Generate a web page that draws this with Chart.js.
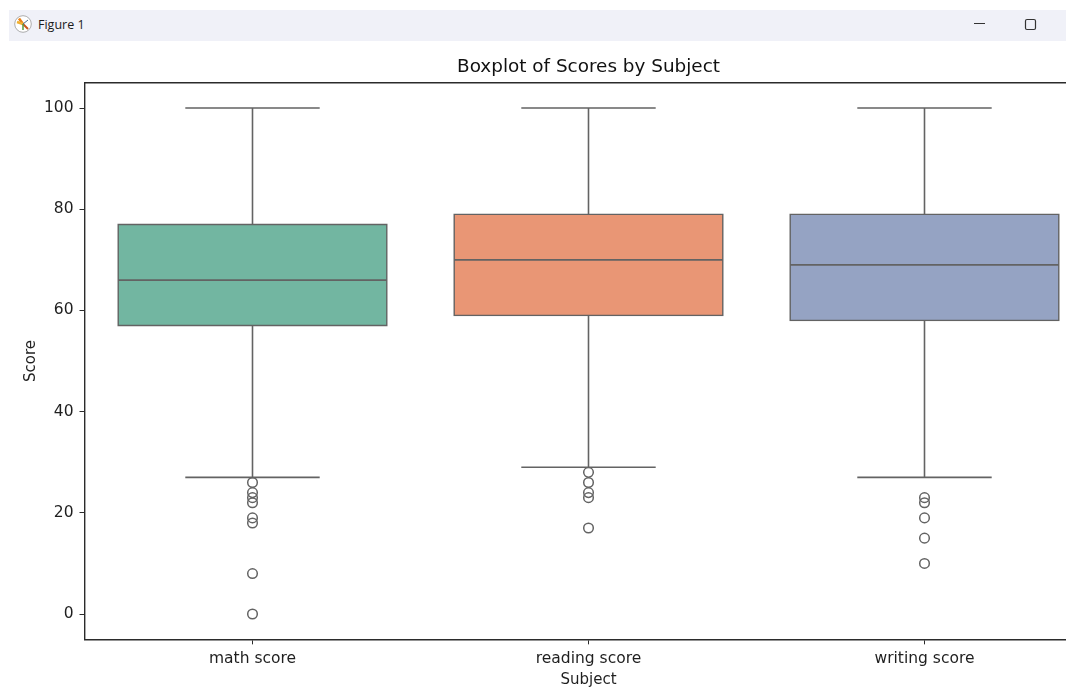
<!DOCTYPE html>
<html>
<head>
<meta charset="utf-8">
<title>Boxplot of Scores by Subject</title>
<script src="https://cdn.jsdelivr.net/npm/chart.js@4"></script>
<style>
  html, body { margin: 0; padding: 0; background: #fff; overflow: hidden; width: 1066px; height: 698px; }
  #chart { position: absolute; left: 0; top: 0; }
  #titlebar { position: absolute; left: 9px; top: 10px; width: 1057px; height: 31px; background: #f0f1f8; }
  #titlebar svg { position: absolute; }
  #caption { position: absolute; left: 29px; top: 6px; font: 12.5px "Open Sans", sans-serif; color: #1a1a1a; }
</style>
</head>
<body>
<canvas id="chart" width="1120" height="698"></canvas>
<div id="titlebar">
  <svg style="left:5px;top:5px" width="18" height="18" viewBox="0 0 18 18">
    <circle cx="9" cy="9" r="8.3" fill="#fff" stroke="#999" stroke-width="0.8"/>
    <path d="M9 9L5 3.5" stroke="#e8801a" stroke-width="2.6"/>
    <path d="M9 9L3 7" stroke="#f0b030" stroke-width="2.4"/>
    <path d="M9 9L14 14" stroke="#c8541c" stroke-width="2"/>
    <path d="M9 9L9 15" stroke="#5a9a3c" stroke-width="1.5"/>
    <path d="M9 9L14 5" stroke="#4a6a8a" stroke-width="1"/>
  </svg>
  <span id="caption">Figure 1</span>
  <svg style="left:960px;top:5px" width="80" height="20" viewBox="0 0 80 20">
    <path d="M5 8.5H16" stroke="#333" stroke-width="1"/>
    <rect x="56.5" y="4.5" width="10" height="10" rx="1.5" fill="none" stroke="#333" stroke-width="1.2"/>
  </svg>
</div>
<script>
const subjects = ["math score", "reading score", "writing score"];
const q1 = [57, 59, 58];
const q3 = [77, 79, 79];
const medians = [66, 70, 69];
const whiskerLow = [27, 29, 27];
const whiskerHigh = [100, 100, 100];
const mathOutliers = [26, 24, 23, 22, 19, 18, 8, 0];
const readingOutliers = [28, 26, 24, 23, 17];
const writingOutliers = [23, 22, 19, 15, 10];
const yTicks = [0, 20, 40, 60, 80, 100];
const boxColors = ["#72b6a1", "#e99675", "#95a3c3"];

const lineColor = "#636363";
const spineColor = "#2b2b2b";
const textColor = "#1f1f1f";
const fontName = "'DejaVu Sans'";
const capHalf = 0.2;
const boxHalf = 0.4;

// whiskers, caps and medians as one broken line on the hidden linear x axis
function buildSegments() {
  const pts = [];
  const seg = (x1, y1, x2, y2) => {
    pts.push({ x: x1, y: y1 }, { x: x2, y: y2 }, { x: x2, y: null });
  };
  subjects.forEach((s, i) => {
    seg(i, q1[i], i, whiskerLow[i]);
    seg(i - capHalf, whiskerLow[i], i + capHalf, whiskerLow[i]);
    seg(i, q3[i], i, whiskerHigh[i]);
    seg(i - capHalf, whiskerHigh[i], i + capHalf, whiskerHigh[i]);
    seg(i - boxHalf, medians[i], i + boxHalf, medians[i]);
  });
  return pts;
}

function buildOutliers() {
  return [mathOutliers, readingOutliers, writingOutliers].flatMap((list, i) =>
    list.map((v) => ({ x: i, y: v }))
  );
}

new Chart(document.getElementById("chart"), {
  data: {
    labels: subjects,
    datasets: [
      {
        type: "bar",
        data: subjects.map((s, i) => [q1[i], q3[i]]),
        backgroundColor: boxColors,
        borderColor: lineColor,
        borderWidth: 1.6,
        borderSkipped: false,
        inflateAmount: 0.8,
        grouped: false,
        categoryPercentage: boxHalf * 2,
        barPercentage: 1,
        xAxisID: "x",
        order: 3,
      },
      {
        type: "line",
        data: buildSegments(),
        borderColor: lineColor,
        borderWidth: 1.6,
        pointRadius: 0,
        spanGaps: false,
        tension: 0,
        xAxisID: "xl",
        order: 2,
      },
      {
        type: "scatter",
        data: buildOutliers(),
        showLine: false,
        pointRadius: 4.8,
        pointBorderWidth: 1.5,
        pointBorderColor: lineColor,
        pointBackgroundColor: "rgba(0,0,0,0)",
        xAxisID: "xl",
        order: 1,
      },
    ],
  },
  options: {
    responsive: false,
    animation: false,
    devicePixelRatio: 1,
    layout: { padding: { top: 56.15, right: 27.5, bottom: 0, left: 0 } },
    plugins: {
      legend: { display: false },
      tooltip: { enabled: false },
      title: {
        display: true,
        text: "Boxplot of Scores by Subject",
        fullSize: false,
        color: "#111",
        font: { family: fontName, size: 18.4, weight: "normal" },
        padding: { top: 0, bottom: 4.5 },
      },
    },
    scales: {
      x: {
        type: "category",
        position: "bottom",
        offset: true,
        afterFit: (s) => { s.height = 58.65; },
        grid: { drawOnChartArea: false, drawTicks: true, tickLength: 5, offset: false, color: spineColor },
        border: { color: spineColor, width: 1.4 },
        ticks: { color: textColor, font: { family: fontName, size: 15.5 }, padding: 5, maxRotation: 0 },
        title: {
          display: true,
          text: "Subject",
          color: textColor,
          font: { family: fontName, size: 15 },
          padding: { top: 0, bottom: 9 },
        },
      },
      xl: {
        type: "linear",
        position: "top",
        min: -0.5,
        max: 2.5,
        afterFit: (s) => { s.height = 0; },
        grid: { display: false },
        border: { display: true, color: spineColor, width: 1.4 },
        ticks: { display: false },
      },
      y: {
        type: "linear",
        min: -5,
        max: 105,
        afterFit: (s) => { s.width = 84.5; },
        afterBuildTicks: (s) => { s.ticks = yTicks.map((v) => ({ value: v })); },
        grid: { drawOnChartArea: false, drawTicks: true, tickLength: 5, color: spineColor },
        border: { color: spineColor, width: 1.4 },
        ticks: { color: textColor, font: { family: fontName, size: 15.5 }, padding: 6 },
        title: {
          display: true,
          text: "Score",
          color: textColor,
          font: { family: fontName, size: 15 },
          padding: { top: 22, bottom: 0 },
        },
      },
    },
  },
});
</script>
</body>
</html>
